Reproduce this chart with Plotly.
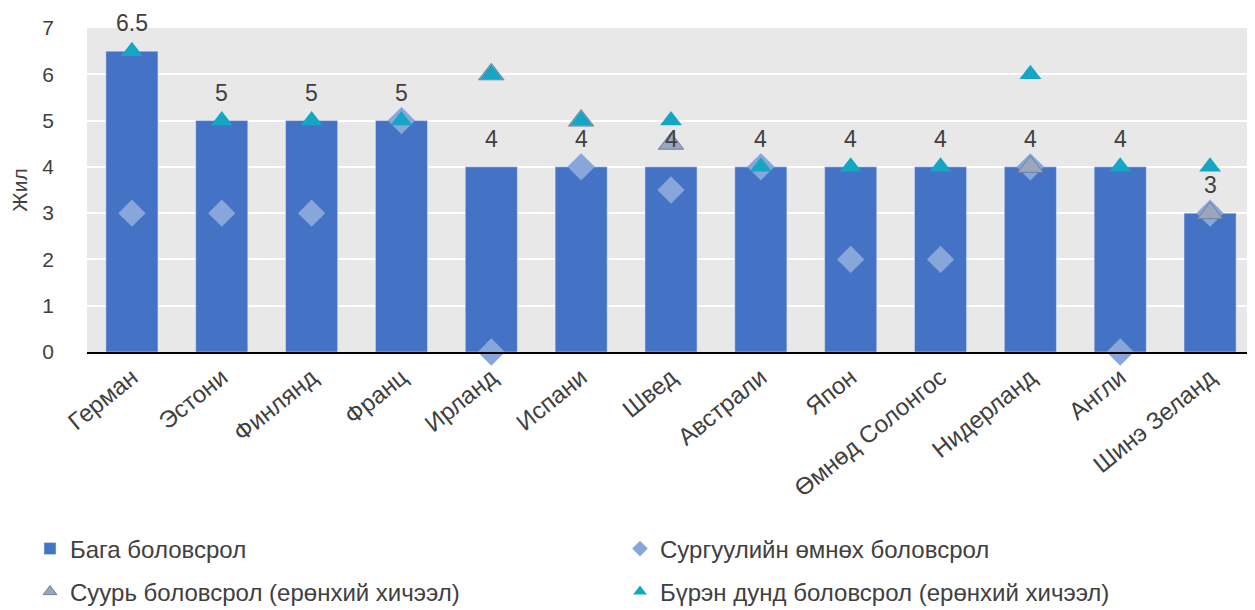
import plotly.graph_objects as go

countries = ["Герман", "Эстони", "Финлянд", "Франц", "Ирланд", "Испани", "Швед",
             "Австрали", "Япон", "Өмнөд Солонгос", "Нидерланд", "Англи", "Шинэ Зеланд"]
primary = [6.5, 5, 5, 5, 4, 4, 4, 4, 4, 4, 4, 4, 3]
pre_primary = [3, 3, 3, 5, 0, 4, 3.5, 4, 2, 2, 4, 0, 3]
lower_secondary = [None, None, None, None, 6, 5, 4.5, None, None, None, 4, None, 3]
upper_secondary = [6.5, 5, 5, 5, 6, 5, 5, 4, 4, 4, 6, 4, 4]

names = ["Бага боловсрол", "Сургуулийн өмнөх боловсрол",
         "Суурь боловсрол (ерөнхий хичээл)", "Бүрэн дунд боловсрол (ерөнхий хичээл)"]

FONT = "Liberation Sans, Arial, sans-serif"
TXT = "#404040"
C_BAR = "#4472C4"
C_DIA = "#86A6DC"
C_GREY = "#9AA6BC"
C_CYAN = "#15A6C6"

W, H = 1247, 602  # page body has an 8px margin

fig = go.Figure()
fig.add_trace(go.Bar(x=countries, y=primary, name=names[0], marker_color=C_BAR,
                     width=0.58, legend="legend"))
fig.add_trace(go.Scatter(x=countries, y=pre_primary, name=names[1], mode="markers",
                         marker=dict(symbol="diamond", size=21, color=C_DIA),
                         cliponaxis=False, showlegend=False))
fig.add_trace(go.Scatter(x=countries, y=lower_secondary, name=names[2], mode="markers",
                         marker=dict(symbol="triangle-up", size=22, color=C_GREY,
                                     line=dict(color="#6F7F9E", width=1)),
                         cliponaxis=False, showlegend=False))
fig.add_trace(go.Scatter(x=countries, y=upper_secondary, name=names[3], mode="markers",
                         marker=dict(symbol="triangle-up", size=19, color=C_CYAN),
                         cliponaxis=False, showlegend=False))

# legend entries (small symbols like the reference)
fig.add_trace(go.Scatter(x=[None], y=[None], name=names[1], mode="markers",
                         marker=dict(symbol="diamond", size=12, color=C_DIA), legend="legend2"))
fig.add_trace(go.Scatter(x=[None], y=[None], name=names[2], mode="markers",
                         marker=dict(symbol="triangle-up", size=12, color=C_GREY,
                                     line=dict(color="#6F7F9E", width=1)), legend="legend3"))
fig.add_trace(go.Scatter(x=[None], y=[None], name=names[3], mode="markers",
                         marker=dict(symbol="triangle-up", size=12, color=C_CYAN), legend="legend4"))

for c, v in zip(countries, primary):
    fig.add_annotation(x=c, y=v, text=f"{v:g}", showarrow=False, yshift=28,
                       yanchor="middle", font=dict(size=23, color=TXT, family=FONT))

leg_common = dict(orientation="h", xref="container", yref="container",
                  xanchor="left", yanchor="middle",
                  font=dict(size=24, color=TXT, family=FONT), itemsizing="trace")
col1, col2 = 22 / W, 612 / W
row1, row2 = (H - 541) / H, (H - 584) / H

fig.update_layout(
    width=W, height=H,
    margin=dict(l=79, r=0, t=20, b=258),
    plot_bgcolor="#E8E8E8", paper_bgcolor="white",
    font=dict(family=FONT, color=TXT),
    xaxis=dict(range=[-0.5, 12.5], tickangle=-39, tickfont=dict(size=24, color=TXT),
               showgrid=False, showline=True, linecolor="black", linewidth=2,
               ticks="", automargin=False),
    yaxis=dict(range=[0, 7], dtick=1, tickfont=dict(size=21, color=TXT),
               gridcolor="white", gridwidth=2, zeroline=False, automargin=False,
               ticklabelstandoff=32,
               title=dict(text="Жил", font=dict(size=21, color=TXT), standoff=10)),
    legend=dict(x=col1, y=row1, **leg_common),
    legend2=dict(x=col2, y=row1, **leg_common),
    legend3=dict(x=col1, y=row2, **leg_common),
    legend4=dict(x=col2, y=row2, **leg_common),
    showlegend=True,
)

fig.write_html("out.html")
